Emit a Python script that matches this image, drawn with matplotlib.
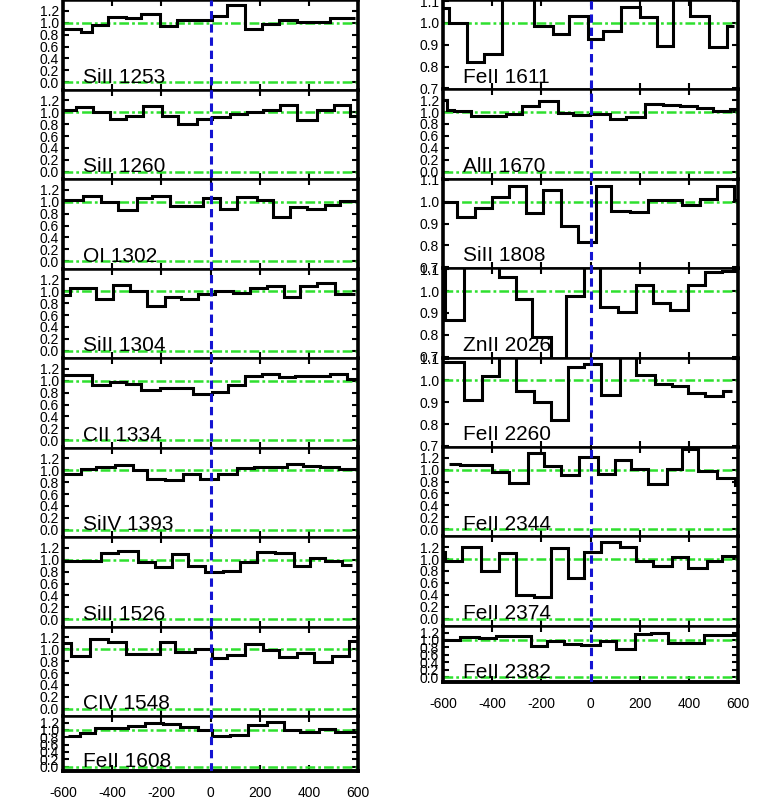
#!/usr/bin/env python3

import matplotlib
matplotlib.use("Agg")
import matplotlib.pyplot as plt

plt.rcParams['font.family'] = ['Liberation Sans', 'DejaVu Sans']
plt.rcParams['lines.scale_dashes'] = False
plt.rcParams['axes.unicode_minus'] = False

# velocity bin edges [km/s] and normalised flux, one pair per transition
sii_1253_v = [-600, -525, -484, -417, -342, -281, -206, -138, 5, 66, 141, 209, 277, 351, 487, 589]
sii_1253_f = [0.90, 0.84, 0.955, 1.095, 1.08, 1.14, 0.94, 1.04, 1.12, 1.30, 0.89, 0.97, 1.04, 1.005, 1.08]

sii_1260_v = [-600, -546, -478, -410, -342, -274, -199, -131, -56, 5, 80, 147, 215, 283, 351, 433, 501, 569, 600]
sii_1260_f = [1.04, 1.095, 1.01, 0.88, 0.94, 1.105, 0.94, 0.80, 0.88, 0.92, 0.97, 1.01, 1.04, 1.12, 0.87, 1.04, 1.12, 0.93]

oi_1302_v = [-600, -518, -444, -376, -301, -240, -165, -29, 39, 107, 188, 256, 324, 392, 467, 528, 600]
oi_1302_f = [1.03, 1.095, 1.0, 0.86, 1.06, 1.095, 0.92, 1.06, 0.87, 1.08, 1.02, 0.74, 0.91, 0.88, 0.95, 1.01]

sii_1304_v = [-600, -573, -464, -396, -328, -260, -186, -118, -50, 18, 93, 161, 229, 297, 365, 433, 508, 589]
sii_1304_f = [0.93, 1.06, 0.87, 1.10, 1.0, 0.75, 0.90, 0.87, 0.955, 1.0, 0.97, 1.045, 1.085, 0.90, 1.085, 1.13, 0.955]

cii_1334_v = [-600, -484, -410, -342, -281, -206, -138, -70, 5, 73, 141, 209, 277, 345, 412, 487, 555, 600]
cii_1334_f = [1.10, 0.93, 0.97, 0.95, 0.84, 0.88, 0.87, 0.78, 0.81, 0.92, 1.08, 1.12, 1.06, 1.07, 1.08, 1.12, 1.03]

siiv_1393_v = [-600, -525, -464, -389, -315, -260, -186, -111, -43, 32, 107, 175, 243, 311, 378, 446, 521, 600]
siiv_1393_f = [0.93, 1.02, 1.045, 1.085, 1.0, 0.85, 0.83, 0.93, 0.86, 0.94, 1.04, 1.05, 1.05, 1.10, 1.07, 1.06, 1.02]

sii_1526_v = [-600, -512, -444, -376, -294, -226, -158, -90, -22, 52, 120, 188, 263, 338, 406, 467, 535, 576]
sii_1526_f = [0.97, 0.985, 1.11, 1.15, 0.955, 0.87, 1.095, 0.90, 0.80, 0.81, 0.955, 1.135, 1.11, 0.90, 1.02, 0.97, 0.91]

civ_1548_v = [-600, -566, -491, -417, -342, -206, -145, -63, 5, 66, 141, 215, 277, 351, 419, 494, 562, 600]
civ_1548_f = [1.11, 0.89, 1.17, 1.12, 0.92, 1.12, 0.955, 1.0, 0.845, 0.90, 1.085, 0.99, 0.87, 0.935, 0.79, 0.89, 1.14]

feii_1608_v = [-580, -532, -471, -335, -267, -192, -124, -50, 5, 80, 154, 229, 297, 365, 440, 508, 596]
feii_1608_f = [0.84, 0.915, 1.045, 1.12, 1.18, 1.15, 1.07, 1.0, 0.83, 0.86, 1.14, 1.21, 1.0, 0.95, 1.03, 0.94]

feii_1611_v = [-600, -577, -502, -434, -359, -229, -154, -86, -11, 50, 125, 200, 269, 337, 405, 480, 555, 582]
feii_1611_f = [1.07, 1.0, 0.82, 0.858, 1.15, 0.988, 0.948, 1.03, 0.928, 0.963, 1.075, 1.025, 0.893, 1.15, 1.03, 0.888, 0.985]

alii_1670_v = [-600, -584, -556, -488, -345, -277, -209, -134, -72, -4, 78, 146, 221, 296, 364, 432, 500, 569, 600]
alii_1670_f = [1.205, 1.04, 1.01, 0.94, 0.967, 1.105, 1.18, 0.983, 0.955, 0.967, 0.89, 0.917, 1.14, 1.12, 1.095, 1.067, 1.022, 1.05]

sii_1808_v = [-600, -543, -470, -400, -331, -263, -195, -120, -52, 23, 85, 160, 235, 310, 371, 446, 514, 582, 600]
sii_1808_f = [0.998, 0.928, 0.969, 1.021, 1.073, 0.949, 1.055, 0.887, 0.815, 1.073, 0.957, 0.951, 1.009, 1.009, 0.984, 1.013, 1.07, 1.006]

znii_2026_v = [-600, -590, -515, -372, -304, -236, -161, -100, -25, 37, 112, 187, 255, 323, 398, 466, 535, 600]
znii_2026_f = [1.2, 0.868, 1.2, 1.063, 0.965, 0.79, 0.6, 0.976, 1.2, 0.928, 0.902, 1.029, 0.947, 0.913, 1.029, 1.086, 1.09]

feii_2260_v = [-600, -515, -440, -372, -304, -229, -161, -93, -25, 44, 119, 187, 262, 330, 398, 466, 541, 575]
feii_2260_f = [1.087, 0.91, 1.019, 1.2, 0.951, 0.903, 0.818, 1.064, 1.075, 0.933, 1.2, 1.027, 0.985, 0.975, 0.943, 0.928, 0.952]

feii_2344_v = [-577, -529, -461, -400, -331, -256, -188, -120, -45, 30, 98, 166, 235, 310, 371, 439, 514, 589, 600]
feii_2344_f = [1.09, 1.07, 1.085, 0.96, 0.78, 1.285, 1.06, 0.916, 1.21, 0.933, 1.156, 1.006, 0.765, 1.017, 1.35, 0.972, 0.86, 0.74]

feii_2374_v = [-600, -590, -522, -447, -372, -304, -229, -161, -93, -25, 44, 119, 187, 255, 330, 398, 473, 535, 600]
feii_2374_f = [1.124, 0.966, 1.197, 0.798, 1.096, 0.393, 0.365, 1.18, 0.685, 1.112, 1.292, 1.197, 0.972, 0.882, 1.039, 0.854, 0.972, 1.056]

feii_2382_v = [-600, -529, -454, -386, -243, -175, -106, -38, 37, 105, 180, 248, 316, 460, 600]
feii_2382_f = [1.0, 1.073, 1.045, 1.11, 0.845, 0.982, 0.882, 0.864, 0.973, 0.755, 1.164, 1.2, 0.927, 1.136]

left_names = ["SiII 1253", "SiII 1260", "OI 1302", "SiII 1304", "CII 1334",
              "SiIV 1393", "SiII 1526", "CIV 1548", "FeII 1608"]
left_vels = [sii_1253_v, sii_1260_v, oi_1302_v, sii_1304_v, cii_1334_v,
             siiv_1393_v, sii_1526_v, civ_1548_v, feii_1608_v]
left_flux = [sii_1253_f, sii_1260_f, oi_1302_f, sii_1304_f, cii_1334_f,
             siiv_1393_f, sii_1526_f, civ_1548_f, feii_1608_f]

right_names = ["FeII 1611", "AlII 1670", "SiII 1808", "ZnII 2026",
               "FeII 2260", "FeII 2344", "FeII 2374", "FeII 2382"]
right_vels = [feii_1611_v, alii_1670_v, sii_1808_v, znii_2026_v,
              feii_2260_v, feii_2344_v, feii_2374_v, feii_2382_v]
right_flux = [feii_1611_f, alii_1670_f, sii_1808_f, znii_2026_f,
              feii_2260_f, feii_2344_f, feii_2374_f, feii_2382_f]

# weak lines shown on a zoomed flux scale
narrow_lines = {"FeII 1611", "SiII 1808", "ZnII 2026", "FeII 2260"}

xticks = [-600, -400, -200, 0, 200, 400, 600]
full_yticks = [0.0, 0.2, 0.4, 0.6, 0.8, 1.0, 1.2]
narrow_yticks = [0.7, 0.8, 0.9, 1.0, 1.1]

W, H = 761, 807
GREEN = '#2ee02e'
BLUE = '#1414d2'


def draw_column(fig, x0, names, vels, fluxes, panel_h, last_h):
    n = len(names)
    axes = []
    top = 0.0
    for i in range(n):
        h = last_h if i == n - 1 else panel_h
        ax = fig.add_axes([x0 / W, 1 - (top + h) / H, 295 / W, h / H])
        name = names[i]
        narrow = name in narrow_lines

        ax.stairs(fluxes[i], vels[i], baseline=None, color='k', lw=2.2, zorder=3)
        ax.axhline(1.0, color=GREEN, lw=1.8, dashes=(7, 2.2, 2, 2.2), zorder=2)
        if not narrow:
            ax.axhline(0.0, color=GREEN, lw=1.8, dashes=(7, 2.2, 2, 2.2), zorder=2)

        ax.set_xlim(-600, 600)
        if narrow:
            ax.set_ylim(0.695, 1.105)
            ax.set_yticks(narrow_yticks)
            ax.set_yticklabels([f"{t:.1f}" for t in narrow_yticks])
        else:
            ax.set_ylim(-0.12, 1.38)
            ax.set_yticks(full_yticks)
            ax.set_yticklabels([f"{t:.1f}" for t in full_yticks])
        ax.set_xticks(xticks)
        ax.tick_params(direction='in', top=True, right=True, length=4.5,
                       width=1.5, labelsize=10, pad=3)
        if i == n - 1:
            ax.set_xticklabels([str(t) for t in xticks])
            ax.tick_params(axis='x', pad=11)
        else:
            ax.set_xticklabels([])

        for side in ('left', 'right'):
            ax.spines[side].set_linewidth(2.6)
        ax.spines['top'].set_linewidth(1.8)
        ax.spines['bottom'].set_linewidth(2.8 if i == n - 1 else 1.8)

        ax.text(0.068, 0.075, name, transform=ax.transAxes, fontsize=15,
                va='baseline', ha='left', zorder=5)
        axes.append(ax)
        top += h

    # one dashed line at v=0 through the whole column
    ov = fig.add_axes([x0 / W, 1 - top / H, 295 / W, top / H], zorder=10)
    ov.set_xlim(-600, 600)
    ov.set_ylim(0, 1)
    ov.axvline(0, color=BLUE, lw=2.2, dashes=(6, 3.5))
    ov.axis('off')
    ov.patch.set_alpha(0)
    return axes


def main():
    fig = plt.figure(figsize=(W / 100, H / 100), dpi=100)
    draw_column(fig, 63, left_names, left_vels, left_flux, 89.5, 55.0)
    draw_column(fig, 443, right_names, right_vels, right_flux, 89.4, 56.0)
    fig.savefig("out.png", dpi=100)


if __name__ == "__main__":
    main()
